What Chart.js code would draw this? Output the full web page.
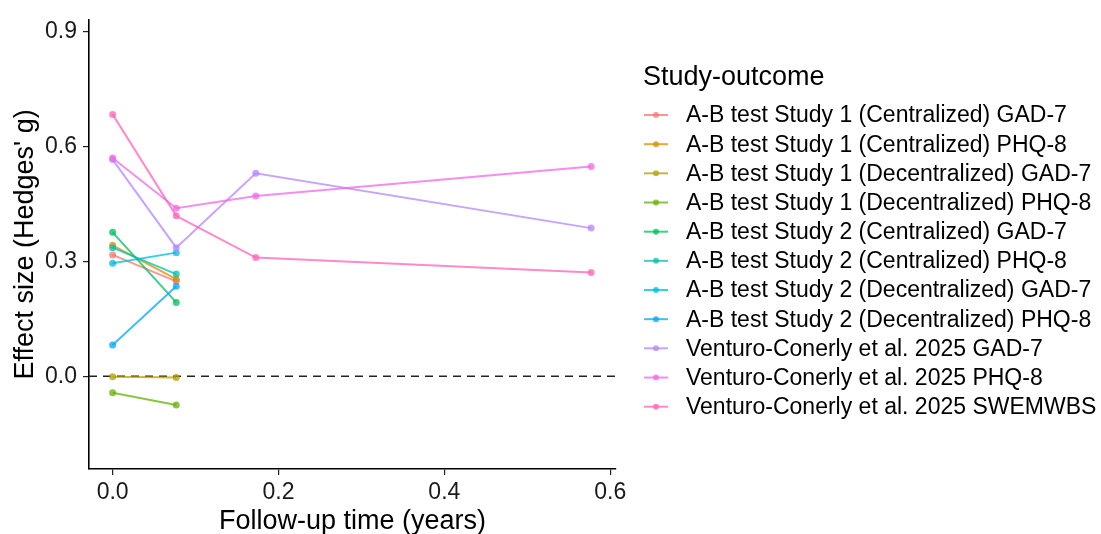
<!DOCTYPE html>
<html><head><meta charset="utf-8">
<script src="https://cdn.jsdelivr.net/npm/chart.js@4.4.1/dist/chart.umd.min.js"></script>
<style>html,body{margin:0;padding:0;background:#fff;}canvas{display:block;}</style>
</head><body>
<canvas id="c" width="1101" height="534"></canvas>
<script>
// ---- data ----
const followUpYears = [0, 0.0767, 0.1726, 0.577];
const seriesNames = [
  "A-B test Study 1 (Centralized) GAD-7",
  "A-B test Study 1 (Centralized) PHQ-8",
  "A-B test Study 1 (Decentralized) GAD-7",
  "A-B test Study 1 (Decentralized) PHQ-8",
  "A-B test Study 2 (Centralized) GAD-7",
  "A-B test Study 2 (Centralized) PHQ-8",
  "A-B test Study 2 (Decentralized) GAD-7",
  "A-B test Study 2 (Decentralized) PHQ-8",
  "Venturo-Conerly et al. 2025 GAD-7",
  "Venturo-Conerly et al. 2025 PHQ-8",
  "Venturo-Conerly et al. 2025 SWEMWBS"
];
const s1CentGAD7 = [0.317, 0.248];
const s1CentPHQ8 = [0.342, 0.254];
const s1DecGAD7  = [-0.001, -0.003];
const s1DecPHQ8  = [-0.043, -0.075];
const s2CentGAD7 = [0.376, 0.193];
const s2CentPHQ8 = [0.336, 0.267];
const s2DecGAD7  = [0.295, 0.323];
const s2DecPHQ8  = [0.082, 0.235];
const vcGAD7     = [0.566, 0.336, 0.530, 0.387];
const vcPHQ8     = [0.570, 0.439, 0.471, 0.548];
const vcSWEMWBS  = [0.684, 0.419, 0.310, 0.271];
const seriesValues = [s1CentGAD7, s1CentPHQ8, s1DecGAD7, s1DecPHQ8, s2CentGAD7, s2CentPHQ8, s2DecGAD7, s2DecPHQ8, vcGAD7, vcPHQ8, vcSWEMWBS];
const seriesColors = ["#F8766D","#DB8E00","#AEA200","#64B200","#00BD5C","#00C1A7","#00BADE","#00A6FF","#B385FF","#EF67EB","#FF63B6"];
const xTicks = [0, 0.2, 0.4, 0.6];
const yTicks = [0, 0.3, 0.6, 0.9];
const xRange = [-0.0285, 0.607];
const yRange = [-0.242, 0.931];
const referenceLine = 0;
const legendTitle = "Study-outcome";
const xTitle = "Follow-up time (years)";
const yTitle = "Effect size (Hedges' g)";

// ---- chart ----
const FONT = '"Liberation Sans", Arial, Helvetica, sans-serif';
const alpha = (hex, a) => hex + Math.round(a * 255).toString(16).padStart(2, '0');
const N = seriesValues.length;

const datasets = seriesValues.map((vals, i) => ({
  label: seriesNames[i],
  inLegend: true,
  data: vals.map((v, j) => ({ x: followUpYears[j], y: v })),
  borderColor: alpha(seriesColors[i], 0.75),
  backgroundColor: alpha(seriesColors[i], 0.75),
  pointBackgroundColor: alpha(seriesColors[i], 0.75),
  pointBorderWidth: 0,
  pointRadius: 3.5,
  borderWidth: 2,
  tension: 0,
  order: N - i + 1
}));
datasets.push({
  label: 'ref',
  inLegend: false,
  data: [{ x: xRange[0], y: referenceLine }, { x: xRange[1], y: referenceLine }],
  borderColor: '#222',
  borderWidth: 1.5,
  borderDash: [8, 6],
  pointRadius: 0,
  order: N + 5
});

const legendPlugin = {
  id: 'studyLegend',
  afterDraw(chart) {
    const c = chart.ctx;
    c.save();
    c.textAlign = 'left';
    c.fillStyle = '#000';
    c.font = '27px ' + FONT;
    c.textBaseline = 'alphabetic';
    c.fillText(legendTitle, 643, 85);
    c.font = '23px ' + FONT;
    c.textBaseline = 'middle';
    let row = 0;
    chart.data.datasets.forEach(ds => {
      if (!ds.inLegend) return;
      const y = 115 + row * 29.17;
      c.strokeStyle = ds.borderColor;
      c.lineWidth = 2;
      c.beginPath(); c.moveTo(644, y); c.lineTo(668, y); c.stroke();
      c.fillStyle = ds.pointBackgroundColor;
      c.beginPath(); c.arc(656, y, 3, 0, Math.PI * 2); c.fill();
      c.fillStyle = '#000';
      c.fillText(ds.label, 686, y + 1);
      row++;
    });
    c.restore();
  }
};

const axisGrid = { display: true, drawOnChartArea: false, drawTicks: true, tickLength: 6, color: '#222', lineWidth: 1.2 };
const axisBorder = { display: true, color: '#000', width: 1.6 };

new Chart(document.getElementById('c'), {
  type: 'line',
  data: { datasets },
  options: {
    responsive: false,
    animation: false,
    devicePixelRatio: 1,
    layout: { padding: { left: 0, top: 13, right: 485, bottom: 0 } },
    plugins: { legend: { display: false }, tooltip: { enabled: false } },
    scales: {
      x: {
        type: 'linear', min: xRange[0], max: xRange[1],
        afterBuildTicks: a => { a.ticks = xTicks.map(v => ({ value: v })); },
        afterFit: s => { s.height = 65; },
        grid: axisGrid, border: axisBorder,
        ticks: { autoSkip: false, maxRotation: 0, padding: 4, color: '#1a1a1a', font: { family: FONT, size: 23 }, callback: v => Number(v).toFixed(1) },
        title: { display: true, text: xTitle, color: '#000', font: { family: FONT, size: 27, lineHeight: 0.9 }, padding: { top: 0, bottom: 0 } }
      },
      y: {
        type: 'linear', min: yRange[0], max: yRange[1],
        afterBuildTicks: a => { a.ticks = yTicks.map(v => ({ value: v })); },
        afterFit: s => { s.width = 89; },
        grid: axisGrid, border: axisBorder,
        ticks: { autoSkip: false, padding: 6, color: '#1a1a1a', font: { family: FONT, size: 23 }, callback: v => Number(v).toFixed(1) },
        title: { display: true, text: yTitle, color: '#000', font: { family: FONT, size: 27, lineHeight: 1.2 }, padding: { top: 9, bottom: 0 } }
      }
    }
  },
  plugins: [legendPlugin]
});
</script>
</body></html>
